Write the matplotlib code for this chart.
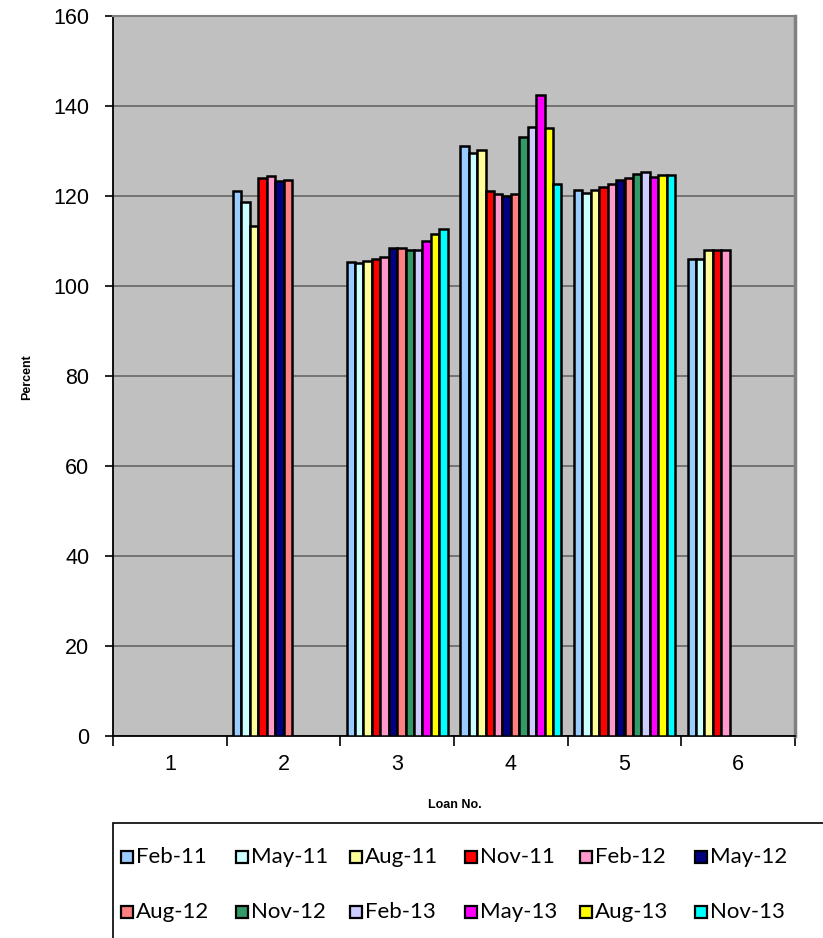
import numpy as np
import matplotlib
matplotlib.use("Agg")
import matplotlib.pyplot as plt
from matplotlib.patches import Rectangle

nan = np.nan
loans = ["1", "2", "3", "4", "5", "6"]
series = ["Feb-11", "May-11", "Aug-11", "Nov-11", "Feb-12", "May-12",
          "Aug-12", "Nov-12", "Feb-13", "May-13", "Aug-13", "Nov-13"]
colors = ["#99CCFF", "#CCFFFF", "#FFFF99", "#FF0000", "#FF99CC", "#000080",
          "#FF8080", "#339966", "#CCCCFF", "#FF00FF", "#FFFF00", "#00FFFF"]

# values per series across loans 1..6
feb11 = [nan, 121.0, 105.4, 131.1, 121.3, 106.1]
may11 = [nan, 118.7, 105.0, 129.6, 120.7, 106.1]
aug11 = [nan, 113.3, 105.6, 130.3, 121.3, 108.1]
nov11 = [nan, 124.0, 105.9, 121.0, 122.1, 108.1]
feb12 = [nan, 124.4, 106.5, 120.5, 122.7, 108.1]
may12 = [nan, 123.3, 108.4, 120.1, 123.6, nan]
aug12 = [nan, 123.5, 108.5, 120.4, 124.0, nan]
nov12 = [nan, nan, 108.1, 133.0, 124.8, nan]
feb13 = [nan, nan, 107.9, 135.3, 125.4, nan]
may13 = [nan, nan, 110.1, 142.4, 124.3, nan]
aug13 = [nan, nan, 111.6, 135.0, 124.7, nan]
nov13 = [nan, nan, 112.7, 122.6, 124.7, nan]
values = [feb11, may11, aug11, nov11, feb12, may12,
          aug12, nov12, feb13, may13, aug13, nov13]

yticks = [0, 20, 40, 60, 80, 100, 120, 140, 160]

W, H = 823, 938
fig = plt.figure(figsize=(W / 100, H / 100), dpi=100)
fig.patch.set_facecolor("white")

L, R, T, B = 113, 795, 16, 736
ax = fig.add_axes([L / W, 1 - B / H, (R - L) / W, (B - T) / H])
ax.set_facecolor("#C0C0C0")

n = len(series)
x = np.arange(len(loans))
w = 1 / 13.5
for i, (s, vals, c) in enumerate(zip(series, values, colors)):
    ax.bar(x + (i - (n - 1) / 2) * w, vals, width=w, color=c,
           edgecolor="black", linewidth=1.8, label=s, zorder=3)

ax.set_xlim(-0.5, len(loans) - 0.5)
ax.set_ylim(0, 160)
ax.set_yticks(yticks)
ax.yaxis.grid(True, color="#6E6E6E", linewidth=1.3, zorder=0)
ax.set_axisbelow(True)

ax.set_xticks(x)
ax.set_xticklabels(loans)
ax.set_xticks(np.arange(len(loans) + 1) - 0.5, minor=True)
ax.tick_params(axis="x", which="major", length=0, pad=13)
ax.tick_params(axis="x", which="minor", length=7, width=1.2, direction="out")
ax.tick_params(axis="y", length=6, width=1.2, direction="out", pad=11)
for lab in ax.get_xticklabels() + ax.get_yticklabels():
    lab.set_fontfamily("Liberation Sans")
    lab.set_fontsize(15.5)

for sp in ["left", "bottom"]:
    ax.spines[sp].set_color("black")
    ax.spines[sp].set_linewidth(1.3)
ax.spines["top"].set_color("#808080")
ax.spines["top"].set_linewidth(1.5)
ax.spines["right"].set_color("#808080")
ax.spines["right"].set_linewidth(2.5)

fig.text(27 / W, 1 - 377 / H, "Percent", rotation=90, ha="center", va="center",
         fontsize=9, fontweight="bold", family="Liberation Sans")
fig.text(455 / W, 1 - 805 / H, "Loan No.", ha="center", va="center",
         fontsize=9, fontweight="bold", family="Liberation Sans")

# legend box
fig.patches.append(Rectangle((L / W, -0.01), (W - L + 10) / W, (H - 823) / H + 0.01,
                             transform=fig.transFigure, facecolor="white",
                             edgecolor="black", linewidth=1.2, clip_on=False))
for i, (s, c) in enumerate(zip(series, colors)):
    col, row = i % 6, i // 6
    px = 121 + col * 114.7
    py = 857 + row * 55
    sq = 12
    fig.patches.append(Rectangle((px / W, 1 - (py + sq / 2) / H), sq / W, sq / H,
                                 transform=fig.transFigure, facecolor=c,
                                 edgecolor="black", linewidth=1.6))
    fig.text((px + sq + 3) / W, 1 - py / H, s, ha="left", va="center",
             fontsize=16, family="Lato", fontweight="normal", color="black")

fig.savefig("out.png", dpi=100)
